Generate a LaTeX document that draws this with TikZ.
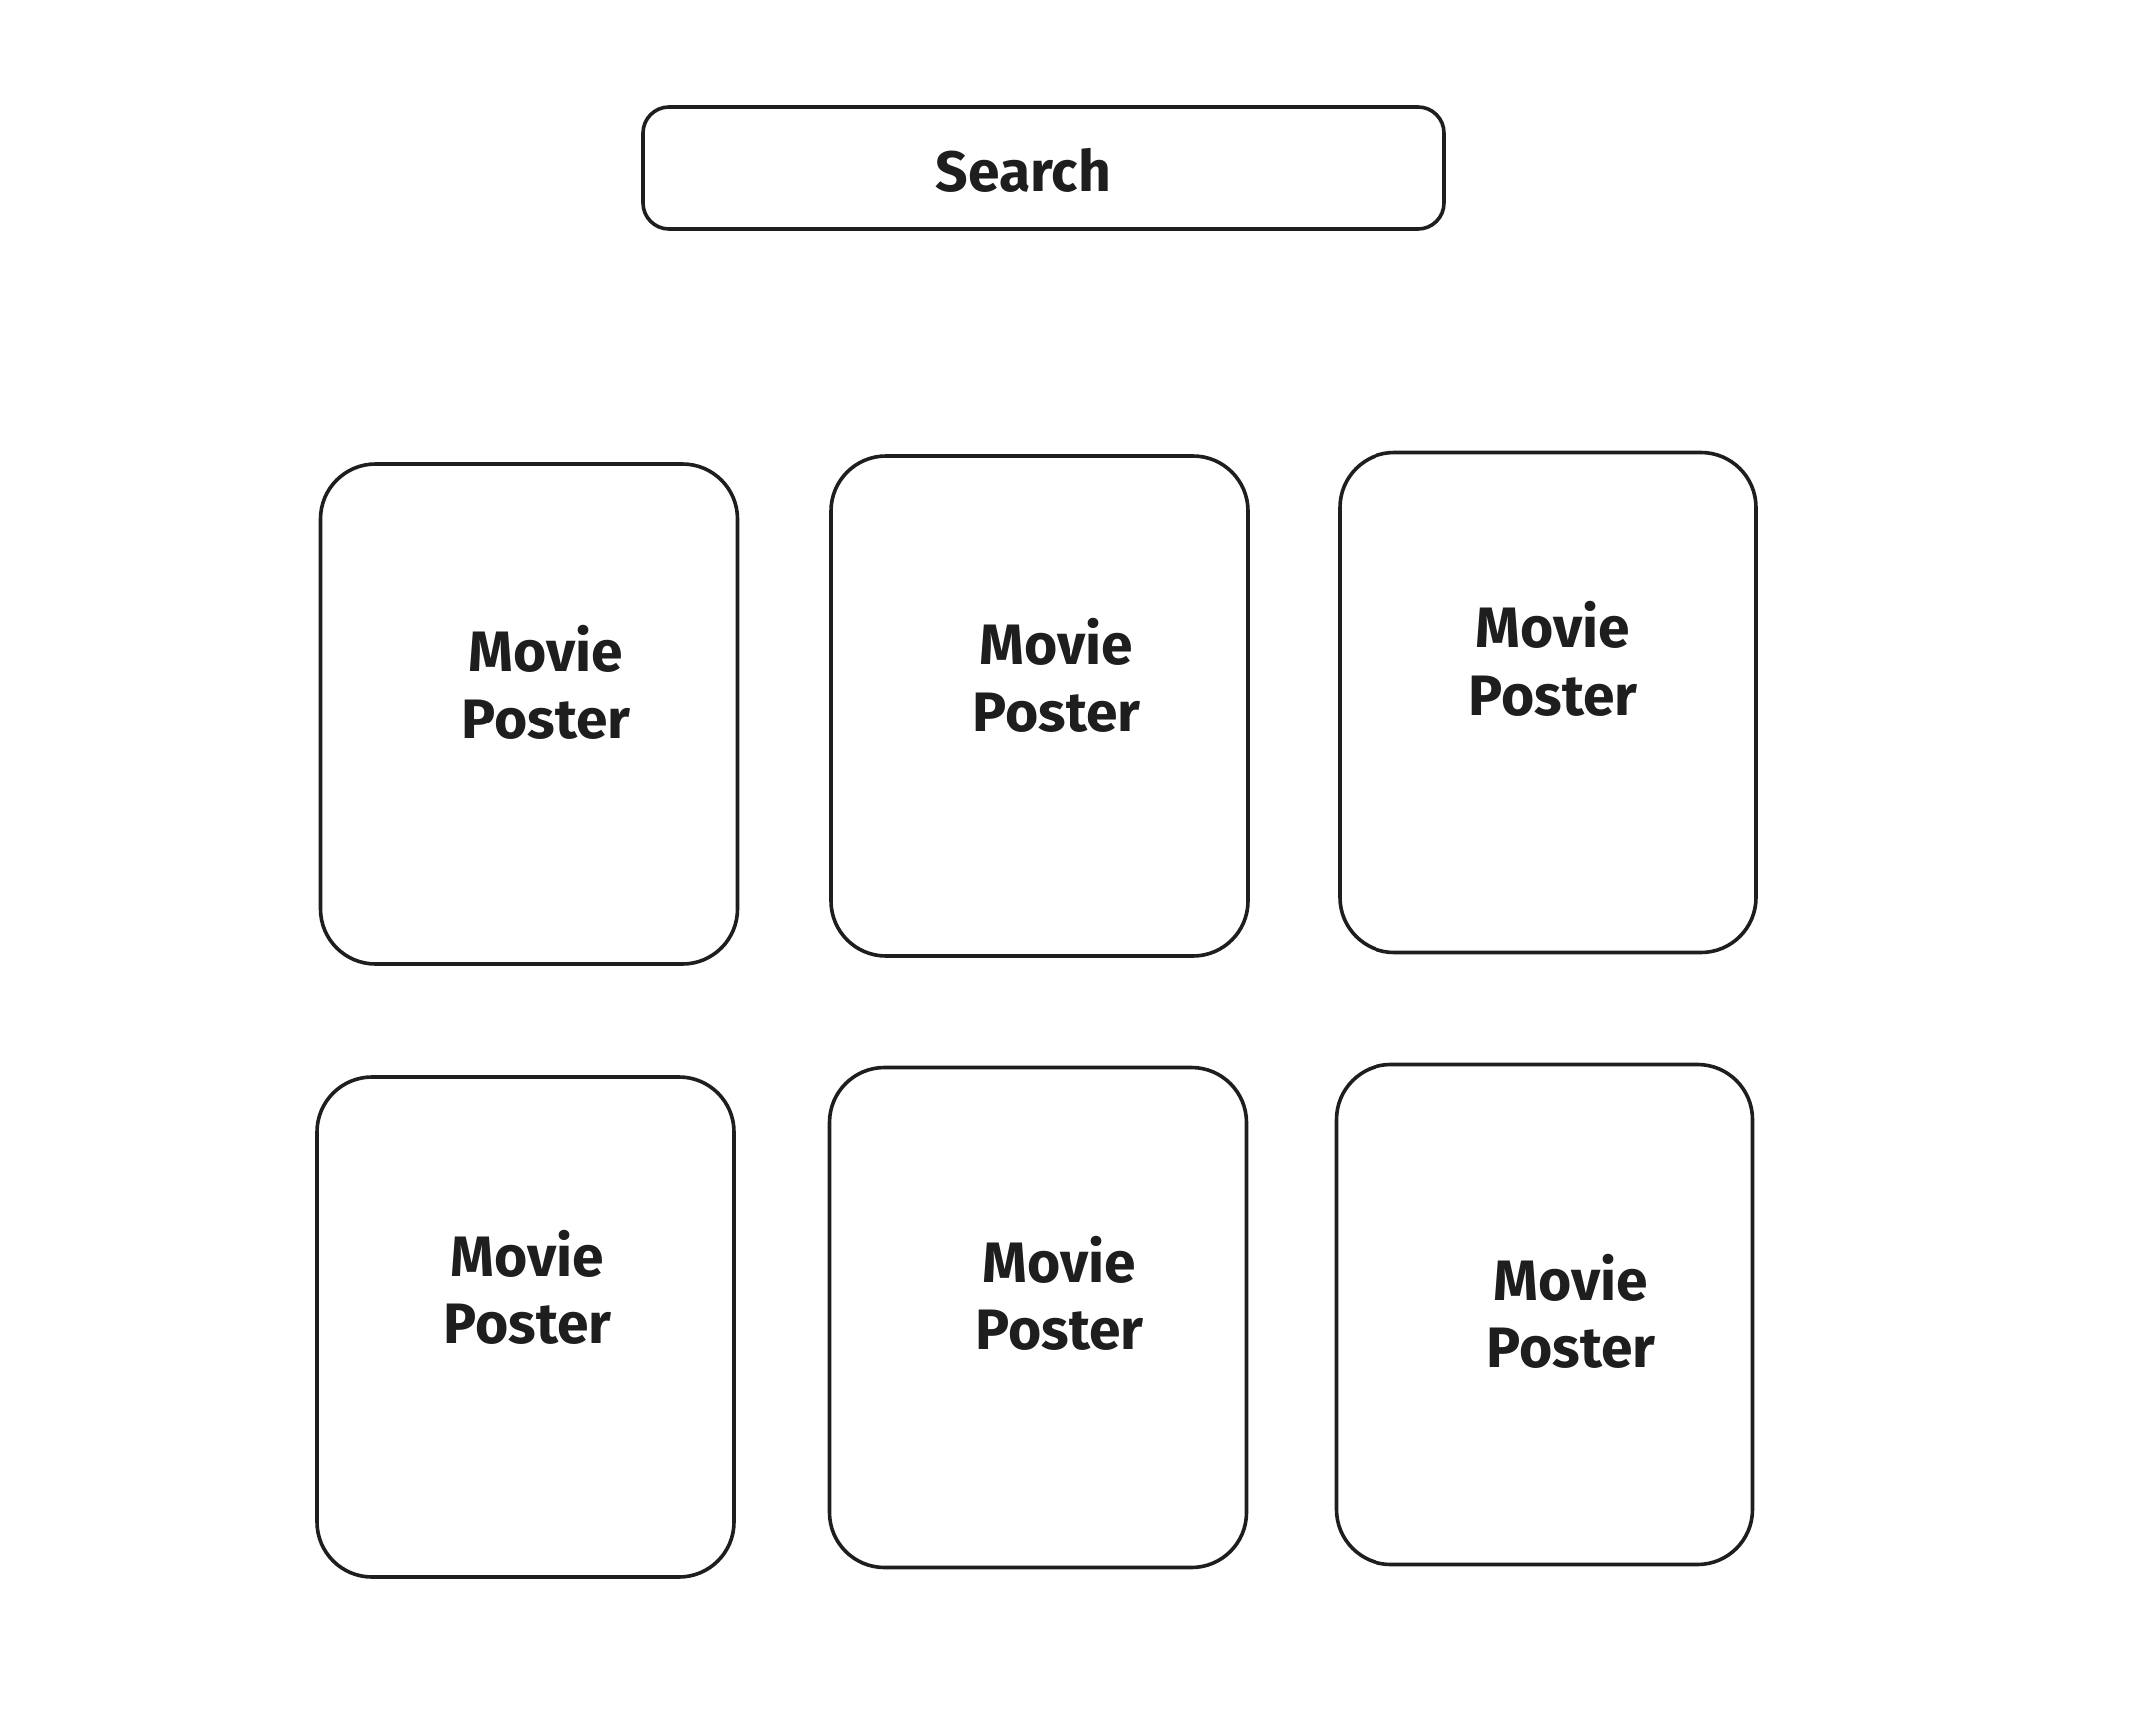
\documentclass[tikz,border=0pt]{standalone}
\usepackage{fontspec}
\setmainfont{Fira Sans}
\definecolor{ink}{HTML}{1E1E1E}
\begin{document}
\begin{tikzpicture}[x=1pt,y=-1pt,
  card/.style={draw=ink, line width=3.6pt, rounded corners=55pt, minimum width=418pt, minimum height=501pt, inner sep=0pt},
  searchbox/.style={draw=ink, line width=3.6pt, rounded corners=26pt, minimum width=804pt, minimum height=123pt, inner sep=0pt},
  label/.style={text=ink, align=center, font=\fontsize{57}{68}\selectfont\bfseries, inner sep=0pt}]
\useasboundingbox[fill=white] (0,0) rectangle (2148,1742);
\node[searchbox] (search) at (1047,168.5) {};
\node[label] (searchtext) at (1027,171) {Search};
\node[card] (b1) at (530.5,716.5) {};
\node[card] (b2) at (1043,708.5) {};
\node[card] (b3) at (1553,705) {};
\node[card] (b4) at (527,1331.5) {};
\node[card] (b5) at (1041.5,1322) {};
\node[card] (b6) at (1549.5,1319) {};
\node[label] (t1) at (548,685) {Movie\\Poster};
\node[label] (t2) at (1060,678) {Movie\\Poster};
\node[label] (t3) at (1558,661) {Movie\\Poster};
\node[label] (t4) at (529,1292) {Movie\\Poster};
\node[label] (t5) at (1063,1298) {Movie\\Poster};
\node[label] (t6) at (1576,1316) {Movie\\Poster};
\end{tikzpicture}
\end{document}
